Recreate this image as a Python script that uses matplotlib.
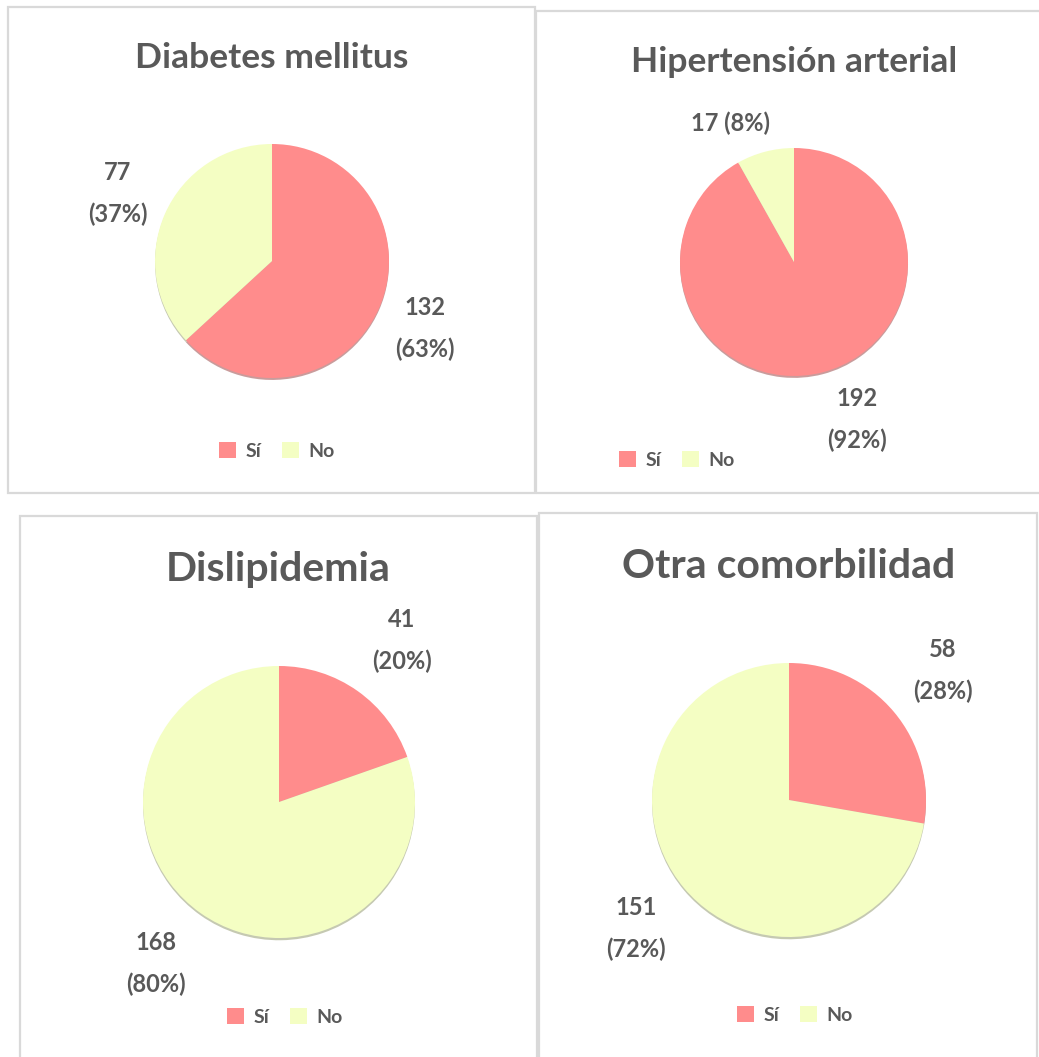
import matplotlib.pyplot as plt
from matplotlib.patches import Rectangle, Patch
import numpy as np

plt.rcParams['font.family'] = ['Lato', 'DejaVu Sans']

titles = ["Diabetes mellitus", "Hipertensión arterial", "Dislipidemia", "Otra comorbilidad"]
si_counts = [132, 192, 41, 58]
no_counts = [77, 17, 168, 151]
si_pct = [63, 92, 20, 28]
no_pct = [37, 8, 80, 72]
legend_labels = ["Sí", "No"]

COLORS = ["#FF8C8C", "#F4FEC3"]
TEXT = "#595959"
BORDER = "#D9D9D9"
W, H = 1039, 1057

# layout per panel (pixels): border box, pie centre/radius, title pos, legend pos, label distance
panels = [
    dict(box=(8, 7, 535, 493), c=(272, 261), r=117, title=(272, 58), tsize=25.5,
         leg=(277, 451), dist=(1.43, 1.44), sep=("\n", "\n")),
    dict(box=(536, 11, 1045, 493), c=(794, 262), r=114, title=(794, 62), tsize=25.5,
         leg=(677, 460), dist=(1.49, 1.34), sep=("\n", " ")),
    dict(box=(20, 516, 537, 1065), c=(279, 802), r=136, title=(278, 570), tsize=29.5,
         leg=(285, 1017), dist=(1.49, 1.49), sep=("\n", "\n")),
    dict(box=(539, 513, 1037, 1065), c=(789, 800), r=137, title=(789, 566), tsize=29.5,
         leg=(795, 1015), dist=(1.47, 1.46), sep=("\n", "\n")),
]
# small angle nudges (deg) mimicking Excel's best-fit label placement
nudges = [(0, 0), (7, 10), (-2, -2), (0, 0)]

fig = plt.figure(figsize=(W / 100, H / 100), dpi=100)

for i, p in enumerate(panels):
    x0, y0, x1, y1 = p["box"]
    fig.patches.append(Rectangle((x0 / W, 1 - y1 / H), (x1 - x0) / W, (y1 - y0) / H,
                                 transform=fig.transFigure, fill=False,
                                 edgecolor=BORDER, linewidth=1.6, zorder=0))
    cx, cy = p["c"]
    r = p["r"]
    ax = fig.add_axes([(cx - r) / W, 1 - (cy + r) / H, 2 * r / W, 2 * r / H])
    vals = [si_counts[i], no_counts[i]]
    wedges, _ = ax.pie(vals, colors=COLORS, startangle=90, counterclock=False,
                       radius=1, wedgeprops=dict(linewidth=0),
                       shadow=dict(ox=0, oy=-0.012, shade=0.35, alpha=0.6))
    ax.set_xlim(-1, 1)
    ax.set_ylim(-1, 1)
    ax.set_aspect("equal")
    ax.axis("off")

    labs = [f"{si_counts[i]}{p['sep'][0]}({si_pct[i]}%)",
            f"{no_counts[i]}{p['sep'][1]}({no_pct[i]}%)"]
    for j, w in enumerate(wedges):
        ang = np.deg2rad((w.theta1 + w.theta2) / 2 + nudges[i][j])
        d = p["dist"][j]
        ax.text(d * np.cos(ang), d * np.sin(ang), labs[j], ha="center", va="center",
                fontsize=17, fontweight="bold", color=TEXT, linespacing=1.95, clip_on=False)

    tx, ty = p["title"]
    fig.text(tx / W, 1 - ty / H, titles[i], ha="center", va="center",
             fontsize=p["tsize"], fontweight="bold", color=TEXT)

    lx, ly = p["leg"]
    handles = [Patch(facecolor=COLORS[k], edgecolor="none") for k in range(2)]
    leg = fig.legend(handles, legend_labels, loc="center", bbox_to_anchor=(lx / W, 1 - ly / H),
                     ncol=2, frameon=False, handlelength=0.85, handleheight=0.85,
                     handletextpad=0.5, columnspacing=1.1,
                     prop=dict(size=14, weight="bold"))
    for t in leg.get_texts():
        t.set_color(TEXT)

fig.savefig("out.png", dpi=100, facecolor="white")
